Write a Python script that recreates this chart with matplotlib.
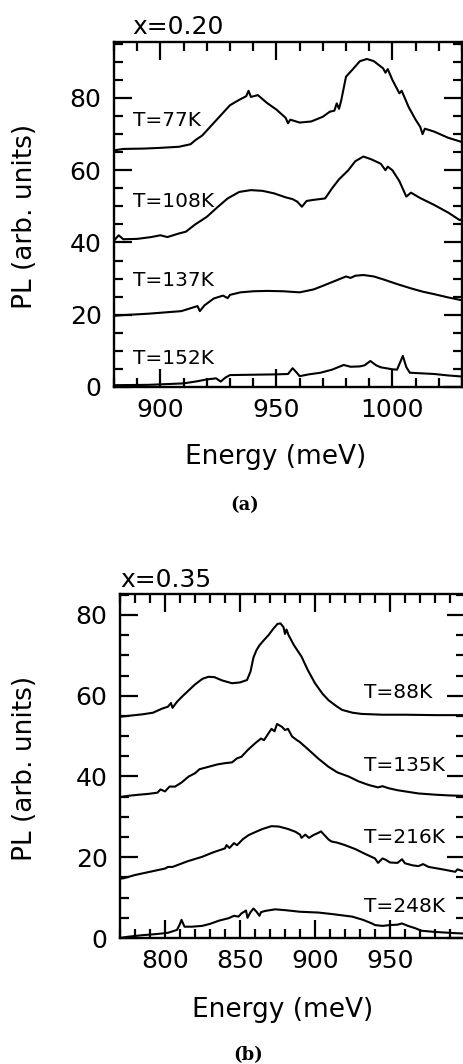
import numpy as np
import matplotlib
matplotlib.use("Agg")
import matplotlib.pyplot as plt
from matplotlib.ticker import MultipleLocator

# ---------------- data: panel (a), x = 0.20 ----------------
E_77 = [880, 884, 893, 900, 908, 913, 915, 918, 920, 925, 930, 934, 937, 938, 939, 942, 946, 950, 954, 955, 956, 960, 965, 970, 973, 975, 976, 977, 978, 980, 983, 986, 989, 992, 996, 997, 998, 1000, 1003, 1004, 1007, 1010, 1012, 1013, 1014, 1018, 1024, 1030]
PL_77 = [65.5, 65.9, 66.0, 66.2, 66.5, 67.2, 68.3, 69.6, 71.0, 74.5, 78.0, 79.5, 80.5, 82.0, 80.3, 80.8, 78.6, 76.8, 74.5, 73.0, 74.0, 73.2, 73.5, 74.8, 76.2, 76.5, 78.5, 77.0, 79.5, 85.9, 88.0, 90.2, 90.8, 90.2, 88.2, 87.0, 88.0, 85.0, 81.3, 82.0, 77.5, 74.0, 72.0, 70.0, 71.5, 70.7, 69.0, 67.8]

E_108 = [880, 882, 884, 890, 896, 900, 903, 908, 911, 915, 920, 925, 929, 934, 939, 944, 949, 954, 957, 959, 961, 963, 966, 971, 974, 977, 981, 984, 987.5, 991, 995, 997, 998, 1000, 1003, 1006, 1008, 1012, 1018, 1024, 1029, 1030]
PL_108 = [40.5, 42.0, 40.9, 41.0, 41.5, 42.0, 41.5, 42.5, 43.0, 45.0, 47.1, 50.0, 52.2, 54.0, 54.5, 54.3, 53.6, 52.5, 52.0, 51.3, 49.9, 51.5, 51.8, 52.2, 55.0, 57.5, 60.0, 62.5, 63.8, 63.0, 61.8, 60.0, 61.0, 60.0, 57.0, 52.7, 53.8, 52.3, 50.4, 48.3, 46.2, 46.5]

E_137 = [880, 884, 895, 905, 909, 913, 916, 917, 919, 923, 927, 929, 930, 934.5, 940, 946, 953, 960, 966, 970, 975, 980, 982, 984, 987.5, 992, 996, 1002, 1008, 1013, 1018, 1024, 1030]
PL_137 = [19.7, 19.9, 20.3, 20.8, 21.0, 21.8, 22.4, 21.0, 22.6, 24.5, 25.3, 24.6, 25.5, 26.2, 26.5, 26.6, 26.5, 26.2, 27.0, 28.0, 29.3, 30.6, 30.2, 30.8, 31.0, 30.6, 29.8, 28.5, 27.3, 26.4, 25.7, 24.8, 24.0]

E_152 = [880, 895, 910, 916, 920, 924, 926, 928, 930, 940, 950, 955, 957, 959, 960, 964, 969, 974, 979, 982, 986, 988, 990.5, 993, 995, 1000, 1002, 1004.5, 1006, 1007.5, 1012, 1018, 1024, 1030]
PL_152 = [0.5, 0.6, 1.0, 1.6, 2.1, 2.4, 1.5, 2.6, 3.3, 3.4, 3.5, 3.6, 5.2, 3.8, 3.0, 3.5, 3.95, 4.8, 6.1, 5.6, 5.7, 6.0, 7.2, 6.0, 5.45, 4.9, 4.8, 8.6, 5.5, 3.95, 3.8, 3.6, 3.2, 2.9]

# ---------------- data: panel (b), x = 0.35 ----------------
E_88 = [770, 775, 785, 792, 798, 802, 804, 805, 808, 812, 816, 820, 825, 829, 833, 838, 844.7, 850, 854.7, 857, 859, 861, 863, 866, 869, 872, 875, 877, 879, 880, 881, 882.4, 886, 891, 895, 900, 905, 909, 914, 918, 925, 931, 945, 960, 980, 1000]
PL_88 = [54.8, 55.0, 55.4, 55.8, 56.8, 57.3, 58.2, 57.0, 58.5, 60.0, 61.4, 62.8, 64.2, 64.7, 64.6, 63.8, 63.1, 63.3, 63.9, 66.0, 69.5, 71.3, 72.5, 73.8, 75.0, 76.5, 77.8, 77.9, 77.0, 75.3, 76.4, 75.0, 72.5, 69.7, 66.5, 63.1, 60.5, 58.9, 57.5, 56.5, 55.8, 55.5, 55.3, 55.3, 55.2, 55.2]

E_135 = [770, 775, 783, 789, 795, 797, 800, 803, 806.7, 811, 815.8, 820, 823, 829, 835, 840, 844.7, 848, 851, 855, 860, 864, 866, 869, 871, 873, 874.7, 878, 880, 882, 884.7, 888, 890, 895.8, 902, 909, 915, 922.4, 929, 935.8, 942, 945, 949, 955, 962, 969, 980, 990, 1000]
PL_135 = [34.9, 35.2, 35.5, 35.7, 36.0, 36.8, 36.3, 37.5, 37.5, 38.5, 40.0, 40.8, 41.8, 42.4, 43.0, 43.3, 43.5, 44.5, 44.9, 46.5, 48.2, 49.4, 49.0, 50.7, 51.8, 51.2, 53.0, 52.3, 51.5, 51.8, 49.9, 49.0, 48.5, 46.6, 44.5, 42.4, 41.0, 40.0, 38.8, 37.9, 37.3, 37.6, 37.1, 36.6, 36.2, 35.8, 35.5, 35.3, 35.2]

E_216 = [770, 772.5, 780, 790, 800, 802, 805, 815, 824.7, 832, 840, 841, 843, 846, 848, 852, 855.8, 860, 865, 871, 876, 882, 887, 890, 891, 893.5, 896, 899, 902, 904, 906, 909, 911, 915, 920, 927, 933, 940, 942, 945, 947, 950, 955, 958, 960, 965, 969, 972, 975.8, 985, 993.5, 995, 1000]
PL_216 = [14.7, 14.8, 15.6, 16.4, 17.2, 17.6, 17.6, 19.0, 20.1, 21.2, 22.2, 23.0, 22.3, 23.5, 23.0, 24.5, 25.5, 26.2, 27.0, 27.7, 27.6, 27.0, 26.3, 25.6, 24.8, 25.6, 24.8, 25.5, 26.0, 26.4, 25.6, 24.4, 23.9, 23.6, 23.0, 22.0, 20.9, 19.7, 18.6, 19.7, 19.4, 18.7, 18.6, 19.5, 18.5, 18.0, 17.8, 18.3, 17.6, 17.0, 16.4, 17.0, 16.4]

E_248 = [770, 775, 785, 795, 800, 802, 808, 810, 811, 813, 818, 824.7, 830, 836, 842.4, 846, 849, 851, 854, 855, 857, 859, 861, 863, 864, 866.7, 873.5, 880, 890, 902.4, 912, 924.7, 932, 938, 940, 945, 950, 955, 958, 962, 967, 971, 980, 993.5, 1000]
PL_248 = [0.0, 0.3, 0.7, 1.0, 1.2, 1.3, 2.0, 3.5, 4.5, 2.8, 2.8, 3.0, 3.5, 4.3, 4.9, 5.5, 5.3, 6.1, 6.8, 5.0, 6.4, 7.3, 6.5, 5.5, 6.4, 6.7, 7.1, 6.9, 6.5, 6.3, 5.9, 5.3, 4.5, 3.6, 3.2, 3.0, 3.2, 3.3, 3.6, 3.0, 2.4, 1.8, 1.5, 1.2, 1.1]

labels_a = ["T=77K", "T=108K", "T=137K", "T=152K"]
labels_b = ["T=88K", "T=135K", "T=216K", "T=248K"]
xt_a = [900, 950, 1000]
xt_b = [800, 850, 900, 950]
yt = [0, 20, 40, 60, 80]

plt.rcParams['font.family'] = ['DejaVu Sans']

fig = plt.figure(figsize=(4.63, 10.64), dpi=100)
W, H = 463, 1064

def mk_axes(l, r, t, b):
    return fig.add_axes([l / W, 1 - b / H, (r - l) / W, (b - t) / H])

ax_a = mk_axes(114, 462, 42, 387)
ax_b = mk_axes(120, 465, 594, 938)

def style(ax, xticks, xlim, ylim):
    ax.set_xlim(*xlim)
    ax.set_ylim(*ylim)
    ax.set_xticks(xticks)
    ax.set_yticks(yt)
    ax.xaxis.set_minor_locator(MultipleLocator(10))
    ax.yaxis.set_minor_locator(MultipleLocator(5))
    ax.tick_params(which='both', direction='in', top=True, right=True, width=1.6)
    ax.tick_params(which='major', length=13)
    ax.tick_params(which='minor', length=6.5)
    ax.tick_params(axis='x', which='major', labelsize=18, pad=8)
    ax.tick_params(axis='y', which='major', labelsize=18, pad=9)
    for s in ax.spines.values():
        s.set_linewidth(1.7)

style(ax_a, xt_a, (880, 1030), (0, 95.5))
style(ax_b, xt_b, (770, 1000), (0, 85.2))

lw = 1.5
for E, P in [(E_77, PL_77), (E_108, PL_108), (E_137, PL_137), (E_152, PL_152)]:
    ax_a.plot(E, P, color='black', lw=lw)
for E, P in [(E_88, PL_88), (E_135, PL_135), (E_216, PL_216), (E_248, PL_248)]:
    ax_b.plot(E, P, color='black', lw=lw)

fs_lab = 14.5
for lab, y in zip(labels_a, [73.9, 51.3, 29.6, 7.9]):
    ax_a.text(888, y, lab, fontsize=fs_lab, ha='left', va='center')
for lab, y in zip(labels_b, [60.8, 42.8, 24.9, 7.9]):
    ax_b.text(932.5, y, lab, fontsize=fs_lab, ha='left', va='center')

ax_a.text(0.052, 1.023, "x=0.20", transform=ax_a.transAxes, fontsize=18, ha='left', va='baseline')
ax_b.text(0.0, 1.020, "x=0.35", transform=ax_b.transAxes, fontsize=18, ha='left', va='baseline')

for ax, yc, xc, xl_x, xl_y in [(ax_a, 0.493, -0.255, 0.464, -0.165), (ax_b, 0.494, -0.275, 0.472, -0.172)]:
    ax.set_ylabel("PL (arb. units)", fontsize=19)
    ax.yaxis.set_label_coords(xc, yc)
    ax.yaxis.label.set_va('center')
    ax.set_xlabel("Energy (meV)", fontsize=19)
    ax.xaxis.set_label_coords(xl_x, xl_y)

fig.text(245 / W, 1 - 505 / H, "(a)", fontsize=13, fontweight='bold', family='DejaVu Serif', ha='center', va='center')
fig.text(248 / W, 1 - 1055 / H, "(b)", fontsize=13, fontweight='bold', family='DejaVu Serif', ha='center', va='center')

fig.savefig("out.png", dpi=100)
